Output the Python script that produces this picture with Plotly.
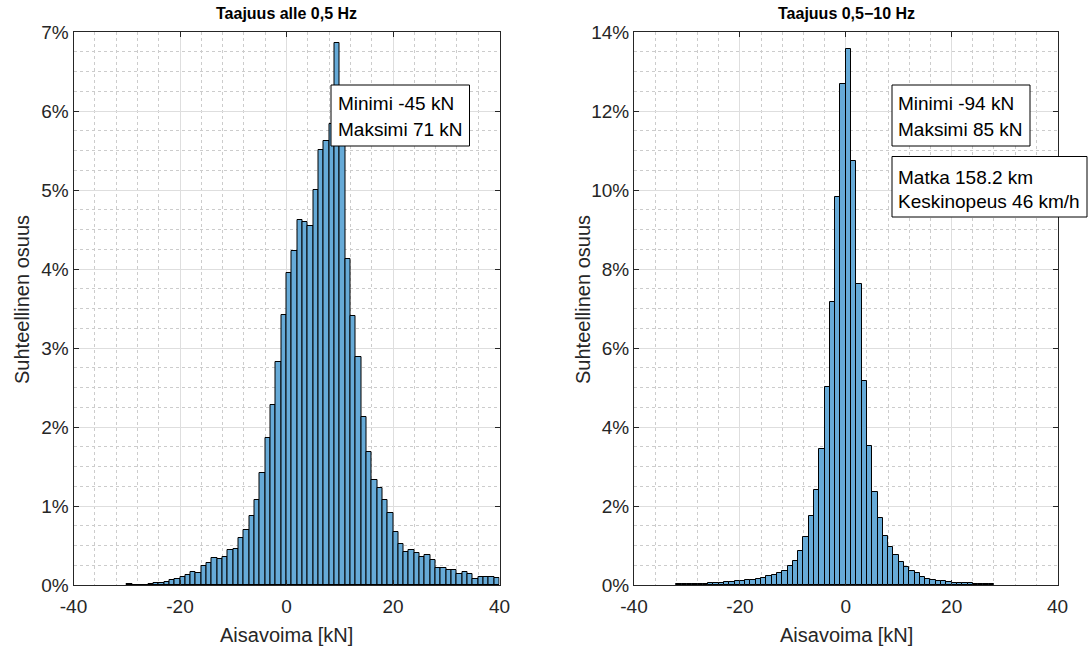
import plotly.graph_objects as go

# ---------------- data ----------------
# Left panel: frequency below 0.5 Hz, 1 kN bins, start edge of each bin
left_bin_start = list(range(-30, 40))
left_pct = [0.017, 0, 0, 0, 0.017, 0.03, 0.03, 0.042, 0.06, 0.076,
            0.10, 0.13, 0.17, 0.156, 0.245, 0.28, 0.34, 0.33, 0.36, 0.44,
            0.45, 0.59, 0.70, 0.87, 1.08, 1.42, 1.86, 2.28, 2.82, 3.42,
            3.95, 4.23, 4.62, 4.60, 4.55, 5.00, 5.51, 5.62, 5.84, 6.86,
            6.00, 4.13, 3.41, 2.88, 2.13, 1.68, 1.33, 1.23, 1.08, 0.91,
            0.67, 0.52, 0.42, 0.44, 0.40, 0.36, 0.38, 0.32, 0.21, 0.21,
            0.19, 0.19, 0.14, 0.165, 0.135, 0.076, 0.105, 0.105, 0.105, 0.084]

# Right panel: frequency 0.5-10 Hz
right_bin_start = list(range(-32, 28))
right_pct = [0.02, 0.02, 0.02, 0.02, 0.02, 0.02, 0.04, 0.04, 0.04, 0.076,
             0.076, 0.11, 0.11, 0.135, 0.135, 0.16, 0.19, 0.22, 0.245, 0.30,
             0.36, 0.47, 0.62, 0.86, 1.22, 1.74, 2.41, 3.44, 5.01, 7.16,
             9.82, 12.68, 13.56, 10.73, 7.62, 5.16, 3.52, 2.36, 1.70, 1.25,
             0.96, 0.77, 0.59, 0.46, 0.36, 0.30, 0.21, 0.16, 0.135, 0.10,
             0.10, 0.084, 0.05, 0.05, 0.05, 0.05, 0.025, 0.025, 0.025, 0.025]

x_ticks = [-40, -20, 0, 20, 40]
left_y_ticks = [0, 1, 2, 3, 4, 5, 6, 7]
right_y_ticks = [0, 2, 4, 6, 8, 10, 12, 14]

titles = ["Taajuus alle 0,5 Hz", "Taajuus 0,5\u221210 Hz"]
x_label = "Aisavoima [kN]"
y_label = "Suhteellinen osuus"
left_box = ["Minimi -45 kN", "Maksimi 71 kN"]
right_box1 = ["Minimi -94 kN", "Maksimi 85 kN"]
right_box2 = ["Matka 158.2 km", "Keskinopeus 46 km/h"]

# ---------------- figure ----------------
W, H = 1091, 650
TOP, BOT = 32, 585            # plot area in page pixels
MT = TOP
MB = H - BOT
FONT = "Liberation Sans, Arial, Helvetica, sans-serif"
AX = "#262626"
BAR = "#66AAD7"

def px_x(p):
    return p / W

def px_y(p):
    return (H - MB - p) / (H - MT - MB)

fig = go.Figure()
fig.add_trace(go.Bar(x=[b + 0.5 for b in left_bin_start], y=left_pct, width=1,
                     marker=dict(color=BAR, line=dict(color="black", width=1)),
                     xaxis="x", yaxis="y", showlegend=False, hoverinfo="skip"))
fig.add_trace(go.Bar(x=[b + 0.5 for b in right_bin_start], y=right_pct, width=1,
                     marker=dict(color=BAR, line=dict(color="black", width=1)),
                     xaxis="x2", yaxis="y2", showlegend=False, hoverinfo="skip"))

TICKFONT = dict(family=FONT, size=19, color=AX)

def xaxis(domain, anchor):
    return dict(domain=domain, anchor=anchor, range=[-40, 40], tickvals=x_ticks,
                ticktext=[str(v) for v in x_ticks], ticks="inside", ticklen=5,
                tickcolor=AX, showline=True, linecolor=AX, linewidth=1, mirror="ticks",
                showgrid=True, gridcolor="#dedede", gridwidth=1, zeroline=False,
                minor=dict(dtick=4, showgrid=True, gridcolor="#cccccc", griddash="dot",
                           gridwidth=1, ticks=""),
                tickfont=TICKFONT, ticklabelstandoff=4,
                automargin=False, fixedrange=True)

def yaxis(domain, anchor, rng, ticks, minor):
    return dict(domain=domain, anchor=anchor, range=rng, tickvals=ticks,
                ticktext=[f"{v}%" for v in ticks], ticks="inside", ticklen=5,
                tickcolor=AX, showline=True, linecolor=AX, linewidth=1, mirror="ticks",
                showgrid=True, gridcolor="#dedede", gridwidth=1, zeroline=False,
                minor=dict(dtick=minor, showgrid=True, gridcolor="#cccccc", griddash="dot",
                           gridwidth=1, ticks=""),
                tickfont=TICKFONT,
                automargin=False, fixedrange=True)

fig.update_layout(
    width=W, height=H, autosize=False,
    margin=dict(l=0, r=0, t=MT, b=MB, pad=0),
    paper_bgcolor="white", plot_bgcolor="white",
    bargap=0, barmode="overlay",
    xaxis=xaxis([px_x(73.5), px_x(499.5)], "y"),
    yaxis=yaxis([0, 1], "x", [0, 7], left_y_ticks, 0.25),
    xaxis2=xaxis([px_x(634), px_x(1057.5)], "y2"),
    yaxis2=yaxis([0, 1], "x2", [0, 14], right_y_ticks, 0.5),
    font=dict(family=FONT, color=AX),
)

ann = []
shapes = []
# titles
for cx, t in [(286.5, titles[0]), (846, titles[1])]:
    ann.append(dict(text=f"<b>{t}</b>", x=px_x(cx), y=px_y(14), xref="paper", yref="paper",
                    xanchor="center", yanchor="middle", showarrow=False,
                    font=dict(family=FONT, size=16, color="black")))
# axis labels
for cx in [286.5, 846]:
    ann.append(dict(text=x_label, x=px_x(cx), y=px_y(635), xref="paper", yref="paper",
                    xanchor="center", yanchor="middle", showarrow=False,
                    font=dict(family=FONT, size=20, color=AX)))
for cx in [22, 583]:
    ann.append(dict(text=y_label, x=px_x(cx), y=px_y(300), xref="paper", yref="paper",
                    xanchor="center", yanchor="middle", showarrow=False, textangle=-90,
                    font=dict(family=FONT, size=20, color=AX)))

def text_box(x0, y0, x1, y1, lines, tx, ly):
    shapes.append(dict(type="rect", xref="paper", yref="paper",
                       x0=px_x(x0), x1=px_x(x1), y0=px_y(y1), y1=px_y(y0),
                       fillcolor="white", line=dict(color="black", width=1), layer="above"))
    for i, line in enumerate(lines):
        ann.append(dict(text=line, x=px_x(tx), y=px_y(ly[i]), xref="paper", yref="paper",
                        xanchor="left", yanchor="middle", showarrow=False,
                        font=dict(family=FONT, size=19, color="black")))

text_box(331, 85, 469.5, 146, left_box, 336, [104, 129])
text_box(892, 85, 1030, 146, right_box1, 896, [104, 129])
text_box(892, 156.5, 1087, 217, right_box2, 896, [177, 201])

fig.update_layout(annotations=ann, shapes=shapes)
fig.write_html("out.html", config={"displayModeBar": False},
               post_script="document.body.style.margin='0';document.body.style.overflow='hidden';")
